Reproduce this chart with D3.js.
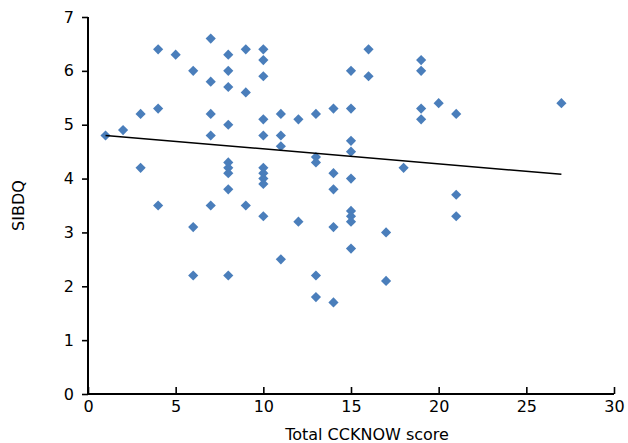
<!DOCTYPE html>
<html>
<head>
<meta charset="utf-8">
<script src="https://cdn.jsdelivr.net/npm/d3@7"></script>
<style>
  body { margin: 0; background: #fff; }
  text { font-family: "DejaVu Sans", Verdana, sans-serif; fill: #000; }
</style>
</head>
<body>
<div id="chart"></div>
<script>
// total CCKNOW score per patient
var scoreX = [1, 2, 3, 3, 4, 4, 4, 5, 6, 6, 6,
    7, 7, 7, 7, 7,
    8, 8, 8, 8, 8, 8, 8, 8, 8,
    9, 9, 9,
    10, 10, 10, 10, 10, 10, 10, 10, 10, 10,
    11, 11, 11, 11, 12, 12,
    13, 13, 13, 13, 13,
    14, 14, 14, 14, 14,
    15, 15, 15, 15, 15, 15, 15, 15, 15,
    16, 16, 17, 17, 18, 19, 19, 19, 19, 20, 21, 21, 21, 27];
// SIBDQ per patient
var sibdq = [4.8, 4.9, 5.2, 4.2, 6.4, 5.3, 3.5, 6.3, 6.0, 3.1, 2.2,
    6.6, 5.8, 5.2, 4.8, 3.5,
    6.3, 6.0, 5.7, 5.0, 4.3, 4.2, 4.1, 3.8, 2.2,
    6.4, 5.6, 3.5,
    6.4, 6.2, 5.9, 5.1, 4.8, 4.2, 4.1, 4.0, 3.9, 3.3,
    5.2, 4.8, 4.6, 2.5, 5.1, 3.2,
    5.2, 4.4, 4.3, 2.2, 1.8,
    5.3, 4.1, 3.8, 3.1, 1.7,
    6.0, 5.3, 4.7, 4.5, 4.0, 3.4, 3.3, 3.2, 2.7,
    6.4, 5.9, 3.0, 2.1, 4.2, 6.2, 6.0, 5.3, 5.1, 5.4, 5.2, 3.7, 3.3, 5.4];
// linear trend line end points
var trendX = [1, 27];
var trendY = [4.80, 4.08];
var xTicks = [0, 5, 10, 15, 20, 25, 30];
var yTicks = [0, 1, 2, 3, 4, 5, 6, 7];

var margin = {top: 17, right: 14, bottom: 49, left: 88},
    width = 628 - margin.left - margin.right,
    height = 443 - margin.top - margin.bottom;

var svg = d3.select("#chart").append("svg")
    .attr("width", 628)
    .attr("height", 443);

var g = svg.append("g")
    .attr("transform", "translate(" + margin.left + "," + margin.top + ")");

var x = d3.scaleLinear().domain([0, 30]).range([0, width]);
var y = d3.scaleLinear().domain([0, 7]).range([height, 0]);

// y axis, ticks outward
var yAxis = g.append("g")
    .call(d3.axisLeft(y).tickValues(yTicks).tickSize(6).tickPadding(8).tickFormat(d3.format("d")));
// x axis, ticks pointing up into the plot
var xAxis = g.append("g")
    .attr("transform", "translate(0," + height + ")")
    .call(d3.axisBottom(x).tickValues(xTicks).tickSize(-7).tickPadding(5).tickFormat(d3.format("d")));

[xAxis, yAxis].forEach(function(a) {
    a.select(".domain").attr("stroke", "#000").attr("stroke-width", 2)
        .attr("d", a === xAxis ? "M0,0H" + width : "M0,0V" + height);
    a.selectAll(".tick line").attr("stroke", "#000").attr("stroke-width", 1.6);
    a.selectAll(".tick text").style("font-size", "16px");
});
xAxis.selectAll(".tick text").attr("dy", "0.75em").attr("y", 6);

// points
g.selectAll(".pt")
    .data(scoreX)
    .enter().append("path")
    .attr("class", "pt")
    .attr("d", d3.symbol().type(d3.symbolDiamond2).size(66))
    .attr("transform", function(d, i) { return "translate(" + x(d) + "," + y(sibdq[i]) + ")"; })
    .attr("fill", "#4a7ebb");

// trend line
g.append("path")
    .datum(trendX)
    .attr("fill", "none")
    .attr("stroke", "#000")
    .attr("stroke-width", 1.5)
    .attr("d", d3.line()
        .x(function(d) { return x(d); })
        .y(function(d, i) { return y(trendY[i]); }));

// axis titles
svg.append("text")
    .attr("x", 367)
    .attr("y", 440)
    .attr("text-anchor", "middle")
    .style("font-size", "16px")
    .text("Total CCKNOW score");

svg.append("text")
    .attr("transform", "translate(24," + (margin.top + height / 2) + ") rotate(-90)")
    .attr("text-anchor", "middle")
    .style("font-size", "16px")
    .text("SIBDQ");
</script>
</body>
</html>
